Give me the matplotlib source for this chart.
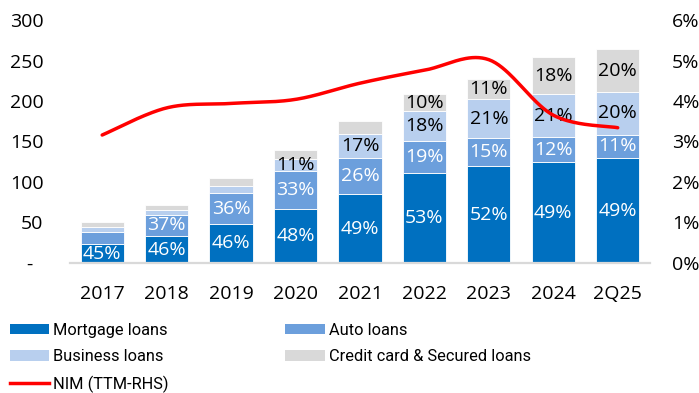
import numpy as np
import matplotlib
matplotlib.use("Agg")
import matplotlib.pyplot as plt
from matplotlib.patches import Patch
from matplotlib.lines import Line2D

# ---- data -------------------------------------------------------------
years = ["2017", "2018", "2019", "2020", "2021", "2022", "2023", "2024", "2Q25"]
loan_book = [51, 72, 105, 140, 173, 208.5, 230, 254, 264]

mortgage_pct = [45, 46, 46, 48, 49, 53, 52, 49, 49]
auto_pct = [31, 37, 36, 33, 26, 19, 15, 12, 11]
business_pct = [10, 8, 9, 11, 17, 18, 21, 21, 20]
credit_pct = [14, 9, 9, 8, 9, 10, 11, 18, 20]

nim = [3.16, 3.83, 3.94, 4.04, 4.44, 4.76, 5.02, 3.65, 3.34]

left_ticks = [0, 50, 100, 150, 200, 250, 300]
left_tick_labels = ["-  ", "50", "100", "150", "200", "250", "300"]
right_ticks = [0, 1, 2, 3, 4, 5, 6]

series = [
    ("Mortgage loans", mortgage_pct, "#0070C0", "white", 0),
    ("Auto loans", auto_pct, "#6C9FDC", "white", 1),
    ("Business loans", business_pct, "#B8CFEE", "black", 3),
    ("Credit card & Secured loans", credit_pct, "#D9D9D9", "black", 5),
]

TICK_FONT = ["Open Sans", "DejaVu Sans"]
LEGEND_FONT = ["Roboto", "DejaVu Sans"]


def smooth_curve(xs, ys, steps=40):
    """Cardinal (Catmull-Rom) Bezier smoothing through every point."""
    p = np.column_stack([xs, ys]).astype(float)
    ext = np.vstack([p[0], p, p[-1]])
    out = []
    for i in range(len(p) - 1):
        p0, p1, p2, p3 = ext[i], ext[i + 1], ext[i + 2], ext[i + 3]
        c1 = p1 + (p2 - p0) / 6.0
        c2 = p2 - (p3 - p1) / 6.0
        t = np.linspace(0, 1, steps)[:, None]
        seg = ((1 - t) ** 3) * p1 + 3 * ((1 - t) ** 2) * t * c1 \
            + 3 * (1 - t) * t ** 2 * c2 + t ** 3 * p2
        out.append(seg if i == 0 else seg[1:])
    pts = np.vstack(out)
    return pts[:, 0], pts[:, 1]


fig = plt.figure(figsize=(6.99, 3.93), dpi=100)
ax = fig.add_axes([0.1001, 0.3308, 0.8297, 0.6183])

x = np.arange(len(years))
width = 0.67
bottom = np.zeros(len(years))
handles = {}
for name, pct, color, txt_color, first_lbl in series:
    heights = np.array(loan_book) * np.array(pct) / 100.0
    bars = ax.bar(x, heights, width, bottom=bottom, color=color,
                  edgecolor="white", linewidth=0.6, zorder=2)
    for i, b in enumerate(bars):
        if i >= first_lbl:
            ax.text(b.get_x() + b.get_width() / 2, bottom[i] + heights[i] / 2,
                    f"{pct[i]:.0f}%", ha="center", va="center",
                    color=txt_color, fontsize=14, family=TICK_FONT, zorder=3)
    bottom += heights
    handles[name] = Patch(facecolor=color, edgecolor="none")

ax.set_xlim(-0.5, len(years) - 0.5)
ax.set_ylim(0, 300)
ax.set_xticks(x)
ax.set_xticklabels(years, family=TICK_FONT, fontsize=14)
ax.set_yticks(left_ticks)
ax.set_yticklabels(left_tick_labels, family=TICK_FONT, fontsize=14)
ax.tick_params(axis="x", length=0, pad=16)
ax.tick_params(axis="y", length=0, pad=19)
for s in ["top", "left", "right"]:
    ax.spines[s].set_visible(False)
ax.spines["bottom"].set_color("#D9D9D9")
ax.spines["bottom"].set_linewidth(1.6)

ax2 = ax.twinx()
sx, sy = smooth_curve(x, nim)
ax2.plot(sx, sy, color="#FF0000", linewidth=2.5, solid_capstyle="round",
         zorder=4)
ax2.set_ylim(0, 6)
ax2.set_yticks(right_ticks)
ax2.set_yticklabels([f"{v}%" for v in right_ticks], family=TICK_FONT,
                    fontsize=14)
ax2.tick_params(axis="y", length=0, pad=16)
for s in ["top", "left", "right", "bottom"]:
    ax2.spines[s].set_visible(False)

nim_handle = Line2D([0], [0], color="#FF0000", linewidth=2.5)
leg_handles = [handles["Mortgage loans"], handles["Business loans"], nim_handle,
               handles["Auto loans"], handles["Credit card & Secured loans"]]
leg_labels = ["Mortgage loans", "Business loans", "NIM (TTM-RHS)",
              "Auto loans", "Credit card & Secured loans"]
fig.legend(leg_handles, leg_labels, ncol=2, loc="upper left",
           bbox_to_anchor=(0.0143, 0.179), frameon=False,
           prop={"family": LEGEND_FONT, "size": 11.8},
           handlelength=2.4, handleheight=0.62, handletextpad=0.25,
           columnspacing=7.1, labelspacing=0.7, borderpad=0,
           borderaxespad=0)

fig.savefig("out.png", dpi=100)
